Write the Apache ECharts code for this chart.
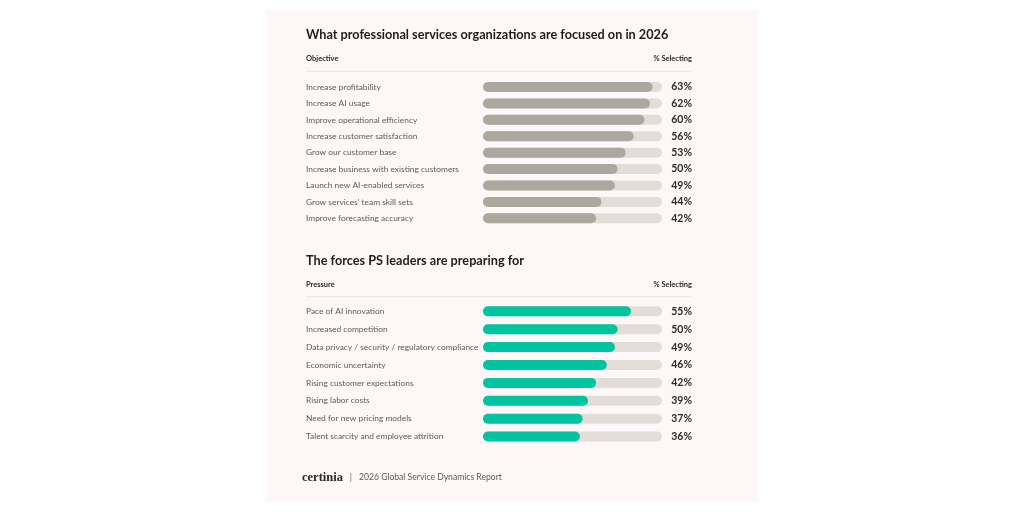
<!DOCTYPE html>
<html>
<head>
<meta charset="utf-8">
<script src="https://cdn.jsdelivr.net/npm/echarts@6/dist/echarts.min.js"></script>
<style>
	html, body { margin: 0; padding: 0; background: #ffffff; }
	#chart { width: 1024px; height: 512px; }
</style>
</head>
<body>
<div id="chart"></div>
<script>
// values
var objectives = [
	'Increase profitability',
	'Increase AI usage',
	'Improve operational efficiency',
	'Increase customer satisfaction',
	'Grow our customer base',
	'Increase business with existing customers',
	'Launch new AI-enabled services',
	"Grow services' team skill sets",
	'Improve forecasting accuracy'
];
var objectiveValues = [63, 62, 60, 56, 53, 50, 49, 44, 42];

var pressures = [
	'Pace of AI innovation',
	'Increased competition',
	'Data privacy / security / regulatory compliance',
	'Economic uncertainty',
	'Rising customer expectations',
	'Rising labor costs',
	'Need for new pricing models',
	'Talent scarcity and employee attrition'
];
var pressureValues = [55, 50, 49, 46, 42, 39, 37, 36];

var titles = [
	'What professional services organizations are focused on in 2026',
	'The forces PS leaders are preparing for'
];
var headers = [['Objective', '% Selecting'], ['Pressure', '% Selecting']];
var footerText = '2026 Global Service Dynamics Report';

var FONT = 'Lato, "Noto Sans", sans-serif';
var scaleMax = 66.5;
var trackColor = '#e2ddd8';
var colors = ['#aea7a0', '#00c3a0'];

var grids = [
	{ left: 483, width: 179, top: 78.8, height: 147.7 },
	{ left: 483, width: 179, top: 302.4, height: 143.1 }
];

function pct(v) { return v + '%'; }

var blocks = [
	{ cats: objectives, vals: objectiveValues },
	{ cats: pressures, vals: pressureValues }
];

var xAxes = [], yAxes = [], series = [];
blocks.forEach(function(b, i) {
	xAxes.push({ type: 'value', gridIndex: i, min: 0, max: scaleMax, show: false });
	yAxes.push({
		type: 'category', gridIndex: i, inverse: true, data: b.cats,
		axisLine: { show: false }, axisTick: { show: false }, splitLine: { show: false },
		axisLabel: { align: 'left', margin: 177, color: '#5f5a57', fontSize: 8.4, fontFamily: FONT }
	});
	yAxes.push({
		type: 'category', gridIndex: i, inverse: true, position: 'right',
		data: b.vals.map(pct),
		axisLine: { show: false }, axisTick: { show: false }, splitLine: { show: false },
		axisLabel: { align: 'right', margin: 30, color: '#2e2b2a', fontSize: 10.5, fontWeight: 'bold', fontFamily: FONT }
	});
	series.push({
		type: 'bar', xAxisIndex: i, yAxisIndex: i * 2, data: b.vals,
		barWidth: 10, silent: true,
		showBackground: true,
		backgroundStyle: { color: trackColor, borderRadius: 5 },
		itemStyle: { color: colors[i], borderRadius: 5 }
	});
});

var headY = [[35, 59, 71.3], [260.5, 284.3, 296.7]];
var graphics = [
	{ type: 'rect', z: -10, shape: { x: 266, y: 10, width: 492, height: 492 }, style: { fill: '#fdf8f7' } }
];
headY.forEach(function(h, i) {
	graphics.push({ type: 'text', x: 306, y: h[0], style: { text: titles[i], font: 'bold 12.7px ' + FONT, fill: '#1f1c1b', textVerticalAlign: 'middle' } });
	graphics.push({ type: 'text', x: 306, y: h[1], style: { text: headers[i][0], font: 'bold 7.5px ' + FONT, fill: '#2e2b2a', textVerticalAlign: 'middle' } });
	graphics.push({ type: 'text', x: 692, y: h[1], style: { text: headers[i][1], font: 'bold 7.5px ' + FONT, fill: '#2e2b2a', textAlign: 'right', textVerticalAlign: 'middle' } });
	graphics.push({ type: 'line', shape: { x1: 306, y1: h[2], x2: 692, y2: h[2] }, style: { stroke: '#ebe5e2', lineWidth: 1 } });
});
graphics.push({ type: 'text', x: 302, y: 477.5, style: { text: 'certinia', font: 'bold 12.5px "Liberation Serif", serif', fill: '#2b2826', textVerticalAlign: 'middle' } });
graphics.push({ type: 'text', x: 351, y: 477.5, style: { text: '|', font: '9px ' + FONT, fill: '#6a6562', textAlign: 'center', textVerticalAlign: 'middle' } });
graphics.push({ type: 'text', x: 359, y: 477.5, style: { text: footerText, font: '8.6px ' + FONT, fill: '#5f5a57', textVerticalAlign: 'middle' } });

var chart = echarts.init(document.getElementById('chart'));
chart.setOption({
	animation: false,
	backgroundColor: '#ffffff',
	grid: grids,
	xAxis: xAxes,
	yAxis: yAxes,
	series: series,
	graphic: graphics
});
</script>
</body>
</html>
